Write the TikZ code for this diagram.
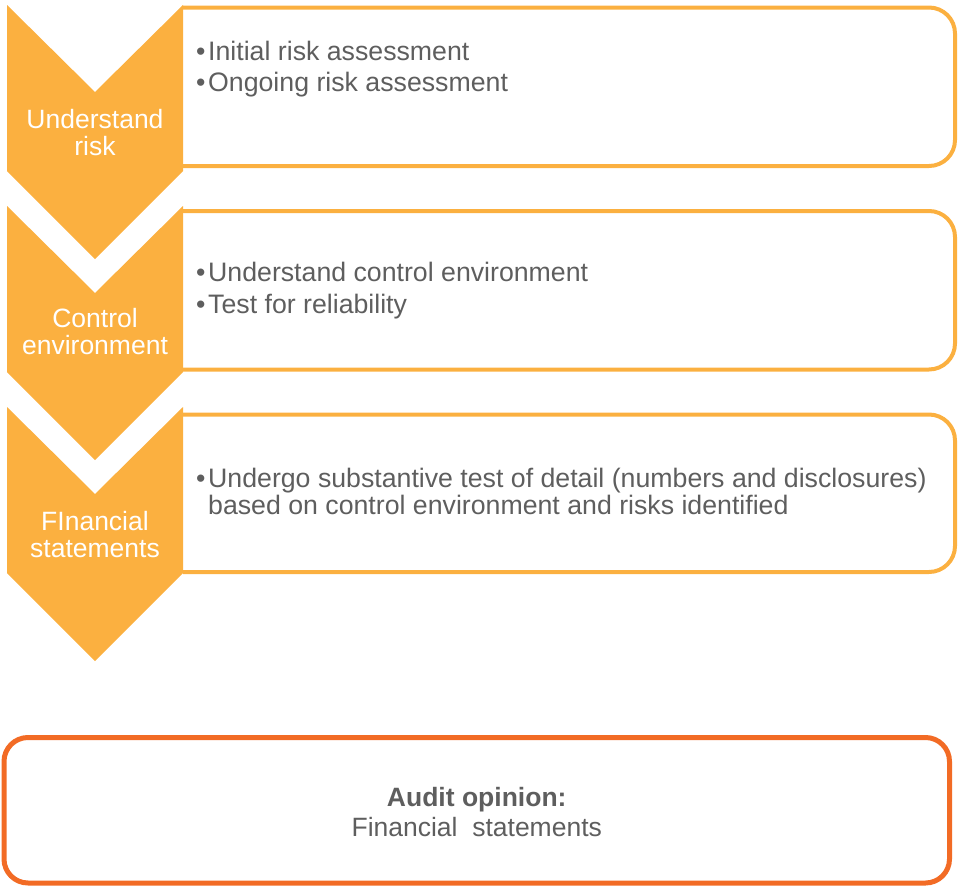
\documentclass[tikz,border=0pt]{standalone}
\usepackage{fontspec}
\setmainfont{Liberation Sans}
\usepackage{tikz}
\usetikzlibrary{positioning}

\definecolor{stepyellow}{HTML}{FBB040}
\definecolor{opinionred}{HTML}{F26B25}
\definecolor{textgray}{HTML}{5E5E5E}

\begin{document}
\begin{tikzpicture}[x=1pt, y=-1pt, node distance=201pt]

\tikzstyle{stepfill} = [fill=stepyellow]
\tikzstyle{boxline} = [draw=stepyellow, line width=4pt, rounded corners=26pt]
\tikzstyle{steptext} = [text=white, align=center, inner sep=0pt, font=\fontsize{26.5}{27}\selectfont]
\tikzstyle{bullets} = [text=textgray, align=left, inner sep=0pt, anchor=base west]
\tikzstyle{opinion} = [rectangle, rounded corners=24pt, draw=opinionred, line width=5pt, minimum width=945.5pt, minimum height=145.5pt, text=textgray, align=center, font=\fontsize{26.5}{30}\selectfont]

\useasboundingbox (0,0) rectangle (958,886);

% boxes on the right, open at the chevron side
\foreach \top/\bot in {7.5/166, 211/369.5, 414.5/572}
  \draw[boxline] (183,\top) -- (955,\top) -- (955,\bot) -- (183,\bot);

% chevrons
\foreach \t in {5,206,407}
  \fill[stepfill] (7,\t) -- (95,\t+87) -- (183,\t) -- (183,\t+166) -- (95,\t+254) -- (7,\t+166) -- cycle;

\node (risk) [steptext] at (95,132.5) {Understand\\risk};
\node (control) [steptext, below of=risk, yshift=2pt] {Control\\environment};
\node (fin) [steptext, below of=control, yshift=-2pt] {FInancial\\statements};

\node (riskitems) [bullets, font=\fontsize{26.7}{31.5}\selectfont] at (196,91.5) {\makebox[12pt][l]{•}Initial risk assessment\\\makebox[12pt][l]{•}Ongoing risk assessment};
\node (controlitems) [bullets, font=\fontsize{26.7}{32}\selectfont] at (196,313) {\makebox[12pt][l]{•}Understand control environment\\\makebox[12pt][l]{•}Test for reliability};
\node (finitems) [bullets, font=\fontsize{26.7}{27}\selectfont] at (196,514.5) {\makebox[12pt][l]{•}Undergo substantive test of detail (numbers and disclosures)\\\hspace*{12pt}based on control environment and risks identified};

\node (audit) [opinion] at (476.75,810.25) {\raisebox{-2pt}[\height][\depth]{\textbf{Audit opinion:}}\\\raisebox{-2pt}[\height][\depth]{Financial\ \ statements}};
\end{tikzpicture}
\end{document}
